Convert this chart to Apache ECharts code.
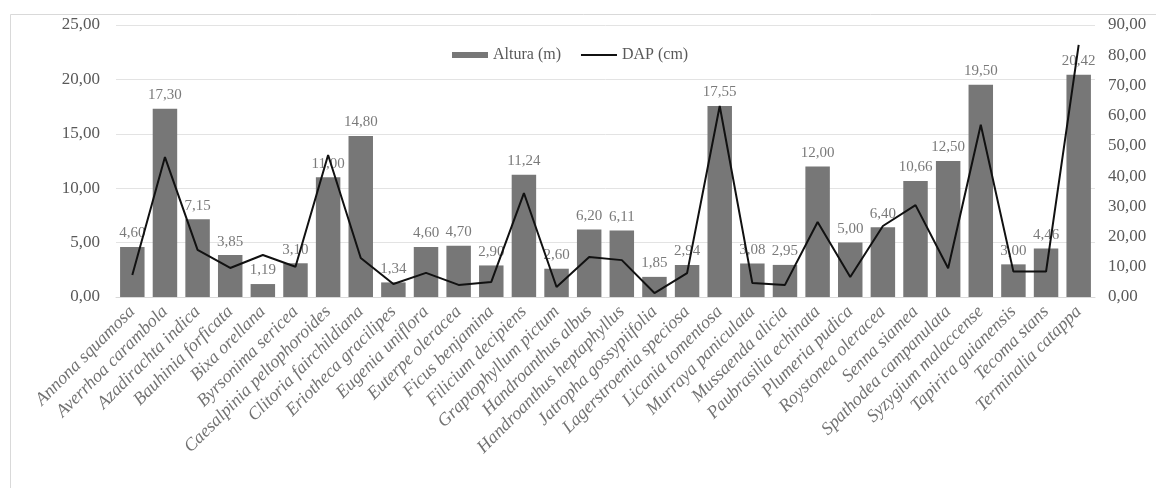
<!DOCTYPE html>
<html>
<head>
<meta charset="utf-8">
<style>
  html, body { margin: 0; padding: 0; background: #fff; }
  #chart { width: 1156px; height: 488px; }
</style>
<script src="https://cdn.jsdelivr.net/npm/echarts@6/dist/echarts.min.js"></script>
</head>
<body>
<div id="chart"></div>
<script>
// Species (x axis)
const species = [
  'Annona squamosa', 'Averrhoa carambola', 'Azadirachta indica', 'Bauhinia forficata',
  'Bixa orellana', 'Byrsonima sericea', 'Caesalpinia peltophoroides', 'Clitoria fairchildiana',
  'Eriotheca gracilipes', 'Eugenia uniflora', 'Euterpe oleracea', 'Ficus benjamina',
  'Filicium decipiens', 'Graptophyllum pictum', 'Handroanthus albus', 'Handroanthus heptaphyllus',
  'Jatropha gossypiifolia', 'Lagerstroemia speciosa', 'Licania tomentosa', 'Murraya paniculata',
  'Mussaenda alicia', 'Paubrasilia echinata', 'Plumeria pudica', 'Roystonea oleracea',
  'Senna siamea', 'Spathodea campanulata', 'Syzygium malaccense', 'Tapirira guianensis',
  'Tecoma stans', 'Terminalia catappa'
];

// Height (m), left axis
const altura = [
  4.60, 17.30, 7.15, 3.85, 1.19, 3.10, 11.00, 14.80, 1.34, 4.60,
  4.70, 2.90, 11.24, 2.60, 6.20, 6.11, 1.85, 2.94, 17.55, 3.08,
  2.95, 12.00, 5.00, 6.40, 10.66, 12.50, 19.50, 3.00, 4.46, 20.42
];

// Diameter at breast height (cm), right axis
const dap = [
  7.3, 46.3, 15.6, 9.6, 13.9, 10.0, 47.0, 12.9, 4.3, 8.0,
  4.0, 5.0, 34.4, 3.3, 13.2, 12.2, 1.3, 7.9, 63.2, 4.6,
  4.0, 24.8, 6.6, 23.5, 30.4, 9.5, 57.0, 8.4, 8.4, 83.4
];

const serif = "'Liberation Serif', 'DejaVu Serif', serif";
const fmt = v => Number(v).toFixed(2).replace('.', ',');

const chart = echarts.init(document.getElementById('chart'), null, { renderer: 'canvas' });

chart.setOption({
  backgroundColor: '#ffffff',
  animation: false,
  textStyle: { fontFamily: serif },
  graphic: [{
    type: 'rect',
    left: 8, top: 12,
    shape: { width: 1200, height: 520 },
    style: { fill: 'none', stroke: '#d9d9d9', lineWidth: 1 },
    z: -1
  }],
  legend: {
    top: 42,
    left: 447,
    itemGap: 20,
    itemWidth: 36,
    itemHeight: 6,
    textStyle: { fontFamily: serif, fontSize: 16, color: '#595959' },
    data: [
      { name: 'Altura (m)', icon: 'rect' },
      // plain stroke for the line series, no marker
      { name: 'DAP (cm)', icon: 'path://M0,0H100V6H0Z' }
    ]
  },
  grid: { left: 116, right: 61, top: 25, bottom: 191, containLabel: false },
  xAxis: {
    type: 'category',
    data: species,
    axisTick: { show: false },
    axisLine: { lineStyle: { color: '#d9d9d9' } },
    axisLabel: {
      interval: 0,
      rotate: 45,
      margin: 12,
      fontFamily: serif,
      fontStyle: 'italic',
      fontSize: 18,
      color: '#727272'
    }
  },
  yAxis: [
    {
      type: 'value',
      min: 0, max: 25, interval: 5,
      axisLine: { show: false },
      axisTick: { show: false },
      splitLine: { lineStyle: { color: '#e3e3e3' } },
      axisLabel: { formatter: fmt, fontFamily: serif, fontSize: 17, color: '#595959', margin: 16 }
    },
    {
      type: 'value',
      min: 0, max: 90, interval: 10,
      axisLine: { show: false },
      axisTick: { show: false },
      splitLine: { show: false },
      axisLabel: { formatter: fmt, fontFamily: serif, fontSize: 17, color: '#595959', margin: 13 }
    }
  ],
  series: [
    {
      name: 'Altura (m)',
      type: 'bar',
      yAxisIndex: 0,
      data: altura,
      barCategoryGap: '25%',
      itemStyle: { color: '#777777' },
      z: 2,
      label: {
        show: true,
        position: 'top',
        distance: 6,
        formatter: p => fmt(p.value),
        fontFamily: serif,
        fontSize: 15,
        color: '#7a7a7a'
      }
    },
    {
      name: 'DAP (cm)',
      type: 'line',
      yAxisIndex: 1,
      data: dap,
      symbol: 'none',
      z: 5,
      lineStyle: { color: '#111111', width: 2 },
      itemStyle: { color: '#111111' }
    }
  ]
});
</script>
</body>
</html>
